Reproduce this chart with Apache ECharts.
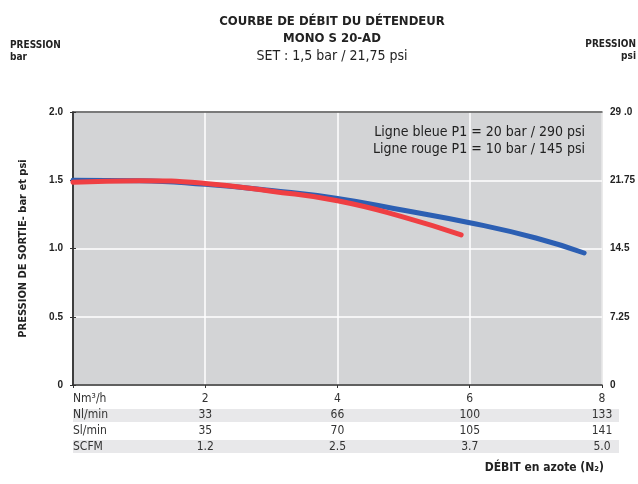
<!DOCTYPE html>
<html>
<head>
<meta charset="utf-8">
<script src="https://cdn.jsdelivr.net/npm/echarts@6/dist/echarts.min.js"></script>
<style>
  html, body { margin: 0; padding: 0; background: #fff; }
  #chart { width: 638px; height: 484px; }
</style>
</head>
<body>
<div id="chart"></div>
<script>
// courbes (x = Nm3/h, y = bar)
var blueX = [0, 1, 2, 3, 4, 5, 6, 7, 7.73];
var blueY = [1.50, 1.497, 1.47, 1.425, 1.367, 1.28, 1.189, 1.077, 0.967];
var redX = [0, 1, 2, 3, 4, 5, 5.87];
var redY = [1.485, 1.497, 1.477, 1.42, 1.35, 1.23, 1.099];

// tableau sous l'axe x
var rowNames = ['Nm³/h', 'Nl/min', 'Sl/min', 'SCFM'];
var rowNm = ['2', '4', '6', '8'];
var rowNl = ['33', '66', '100', '133'];
var rowSl = ['35', '70', '105', '141'];
var rowScfm = ['1.2', '2.5', '3.7', '5.0'];
var rows = [rowNm, rowNl, rowSl, rowScfm];

var psiTicks = ['0', '7.25', '14.5', '21.75', '29 .0'];

var narrow = '"Liberation Sans Narrow", "DejaVu Sans Condensed", sans-serif';
var tickFont = { fontFamily: 'Liberation Sans', fontWeight: 'bold', fontSize: 10, color: '#222' };

function pair(xs, ys) {
  return xs.map(function (x, i) { return [x, ys[i]]; });
}

var xAxes = rows.map(function (row, r) {
  return {
    type: 'value', min: 0, max: 8, interval: 2,
    position: 'bottom', offset: r * 16,
    axisLine: { show: r === 0, lineStyle: { color: '#333', width: 1.5 } },
    axisTick: { show: r === 0, length: 3, lineStyle: { color: '#333' } },
    splitLine: { show: r === 0, lineStyle: { color: '#fff', width: 1.5 } },
    axisLabel: {
      margin: 8, fontFamily: narrow, fontSize: 12, color: '#333',
      alignMinLabel: 'left',
      formatter: function (v) { return v === 0 ? rowNames[r] : row[v / 2 - 1]; }
    }
  };
});
// bord supérieur
xAxes.push({
  type: 'value', min: 0, max: 8, position: 'top',
  axisLine: { show: true, lineStyle: { color: '#555', width: 1.5 } },
  axisTick: { show: false }, axisLabel: { show: false }, splitLine: { show: false }
});

var chart = echarts.init(document.getElementById('chart'));
chart.setOption({
  backgroundColor: '#fff',
  animation: false,
  grid: {
    left: 73, right: 35, top: 112, bottom: 99,
    show: true, backgroundColor: '#d3d4d6', borderColor: '#555', borderWidth: 1
  },
  title: [
    { text: 'COURBE DE DÉBIT DU DÉTENDEUR', left: 327, top: 10, textAlign: 'center',
      textStyle: { fontFamily: narrow, fontWeight: 'bold', fontSize: 13, color: '#222' } },
    { text: 'MONO S 20-AD', left: 327, top: 27, textAlign: 'center',
      textStyle: { fontFamily: narrow, fontWeight: 'bold', fontSize: 13, color: '#222' } },
    { text: 'SET : 1,5 bar / 21,75 psi', left: 327, top: 44, textAlign: 'center',
      textStyle: { fontFamily: narrow, fontWeight: 'normal', fontSize: 14, color: '#222' } }
  ],
  graphic: [
    { type: 'rect', shape: { x: 73, y: 409, width: 546, height: 13 }, style: { fill: '#e8e8ea' }, z: -1 },
    { type: 'rect', shape: { x: 73, y: 440, width: 546, height: 13 }, style: { fill: '#e8e8ea' }, z: -1 },
    { type: 'text', left: 10, top: 39, style: { text: 'PRESSION\nbar', fontFamily: narrow, fontWeight: 'bold', fontSize: 10, lineHeight: 12, fill: '#222' } },
    { type: 'text', right: 2, top: 39, style: { text: 'PRESSION', fontFamily: narrow, fontWeight: 'bold', fontSize: 10, fill: '#222' } },
    { type: 'text', right: 2, top: 51, style: { text: 'psi', fontFamily: narrow, fontWeight: 'bold', fontSize: 10, fill: '#222' } },
    { type: 'text', right: 53, top: 125, z: 10, style: { text: 'Ligne bleue P1 = 20 bar / 290 psi', fontFamily: narrow, fontSize: 14, fill: '#222' } },
    { type: 'text', right: 53, top: 142, z: 10, style: { text: 'Ligne rouge P1 = 10 bar / 145 psi', fontFamily: narrow, fontSize: 14, fill: '#222' } },
    { type: 'text', right: 34, top: 462, style: { text: 'DÉBIT en azote (N₂)', fontFamily: narrow, fontWeight: 'bold', fontSize: 12, fill: '#222' } }
  ],
  xAxis: xAxes,
  yAxis: [
    {
      type: 'value', min: 0, max: 2, interval: 0.5,
      name: 'PRESSION DE SORTIE- bar et psi', nameLocation: 'middle', nameGap: 44, nameRotate: 90,
      nameTextStyle: { fontFamily: narrow, fontWeight: 'bold', fontSize: 11, color: '#222' },
      axisLine: { show: true, lineStyle: { color: '#333', width: 1.5 } },
      axisTick: { show: true, length: 3, lineStyle: { color: '#333' } },
      splitLine: { show: true, lineStyle: { color: '#fff', width: 1.5 } },
      axisLabel: Object.assign({ margin: 10, formatter: function (v) { return v === 0 ? '0' : v.toFixed(1); } }, tickFont)
    },
    {
      type: 'value', min: 0, max: 29, interval: 7.25, position: 'right',
      axisLine: { show: true, lineStyle: { color: '#333', width: 1.5 } },
      axisTick: { show: true, length: 3, lineStyle: { color: '#333' } },
      splitLine: { show: false },
      axisLabel: Object.assign({ margin: 8, formatter: function (v) { return psiTicks[Math.round(v / 7.25)]; } }, tickFont)
    }
  ],
  series: [
    {
      name: 'P1 = 20 bar', type: 'line', smooth: true, showSymbol: false, symbol: 'none',
      data: pair(blueX, blueY),
      lineStyle: { color: '#2c5fb3', width: 5, cap: 'round' }, z: 3
    },
    {
      name: 'P1 = 10 bar', type: 'line', smooth: true, showSymbol: false, symbol: 'none',
      data: pair(redX, redY),
      lineStyle: { color: '#ef3f43', width: 5, cap: 'round' }, z: 4
    }
  ]
});
</script>
</body>
</html>
